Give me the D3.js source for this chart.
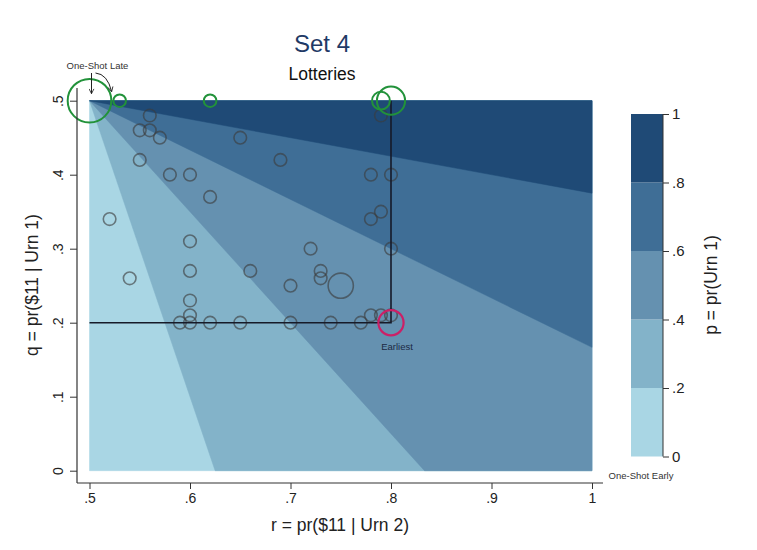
<!DOCTYPE html>
<html><head><meta charset="utf-8">
<script src="https://cdn.jsdelivr.net/npm/d3@7"></script>
<style>body{margin:0;background:#fff}svg{display:block;font-family:"Liberation Sans",Arial,sans-serif}</style>
</head><body><svg id="c" width="757" height="550"></svg>
<script>
// ---- data ----
const xTicks = [0.5, 0.6, 0.7, 0.8, 0.9, 1];
const xTickLabels = [".5", ".6", ".7", ".8", ".9", "1"];
const yTicks = [0, 0.1, 0.2, 0.3, 0.4, 0.5];
const yTickLabels = ["0", ".1", ".2", ".3", ".4", ".5"];
const levels = [0, 0.2, 0.4, 0.6, 0.8, 1];
const levelLabels = ["0", ".2", ".4", ".6", ".8", "1"];
// subjects (gray circles)
const subjR = [0.55,0.56,0.57,0.56,0.55,0.58,0.60,0.62,0.65,0.69,0.52,0.60,0.54,0.60,0.66,0.60,0.60,0.59,0.60,0.62,0.65,0.70,0.74,0.77,0.78,0.79,0.80,0.78,0.80,0.79,0.78,0.80,0.72,0.73,0.73,0.75,0.70,0.79];
const subjQ = [0.46,0.46,0.45,0.48,0.42,0.40,0.40,0.37,0.45,0.42,0.34,0.31,0.26,0.27,0.27,0.23,0.21,0.20,0.20,0.20,0.20,0.20,0.20,0.20,0.21,0.21,0.21,0.40,0.40,0.35,0.34,0.30,0.30,0.27,0.26,0.25,0.25,0.48];
const subjN = [1,1,1,1,1,1,1,1,1,1,1,1,1,1,1,1,1,1,1,1,1,1,1,1,1,1,1,1,1,1,1,1,1,1,1,4,1,1];
// one-shot (green circles)
const shotR = [0.50,0.53,0.62,0.79,0.80];
const shotQ = [0.50,0.50,0.50,0.50,0.50];
const shotN = [12,1,1,2,5];
// earliest (magenta circle)
const earlyR = [0.80];
const earlyQ = [0.20];
const earlyN = [4];
// reference point
const refR = 0.8, refQ = 0.2;

// ---- layout ----
const svg = d3.select("#c");
const x = d3.scaleLinear().domain([0.5, 1]).range([89.5, 592]);
const y = d3.scaleLinear().domain([0, 0.5]).range([470.7, 100.7]);
const colors = ["#a9d6e4", "#83b3c9", "#6591b0", "#3f6e96", "#1f4a76"];
const rad = d3.scaleSqrt().domain([0, 1]).range([0, 6.3]);

// contour bands p = (r-0.5)/(r-q): region p >= t
function bandPoly(t) {
  const pts = [[0.5, 0.5]];
  if (t <= 0.5) {
    pts.push([0.5 / (1 - t), 0]);
    pts.push([1, 0]);
  } else {
    pts.push([1, 1 - 0.5 / t]);
  }
  pts.push([1, 0.5]);
  return pts;
}
const gB = svg.append("g");
levels.slice(0, -1).forEach((t, i) => {
  gB.append("path")
    .attr("d", d3.line().x(d => x(d[0])).y(d => y(d[1]))(bandPoly(t)) + "Z")
    .attr("fill", colors[i]).attr("stroke", colors[i]).attr("stroke-width", 0.5);
});

// gray subject circles
const subj = subjR.map((r, i) => ({r, q: subjQ[i], n: subjN[i]}));
svg.append("g").selectAll("circle").data(subj).join("circle")
  .attr("cx", d => x(d.r)).attr("cy", d => y(d.q)).attr("r", d => rad(d.n))
  .attr("fill", "none").attr("stroke", "#3c3c3c").attr("stroke-opacity", 0.62).attr("stroke-width", 1.6);

// reference lines
svg.append("path")
  .attr("d", `M${x(0.5)},${y(refQ)}H${x(refR)}V${y(0.5)}`)
  .attr("fill", "none").attr("stroke", "#161a28").attr("stroke-width", 1.6);

// green circles
const shot = shotR.map((r, i) => ({r, q: shotQ[i], n: shotN[i]}));
svg.append("g").selectAll("circle").data(shot).join("circle")
  .attr("cx", d => x(d.r)).attr("cy", d => y(d.q)).attr("r", d => rad(d.n))
  .attr("fill", "none").attr("stroke", "#22923a").attr("stroke-width", 2);

// magenta circle
const early = earlyR.map((r, i) => ({r, q: earlyQ[i], n: earlyN[i]}));
svg.append("g").selectAll("circle").data(early).join("circle")
  .attr("cx", d => x(d.r)).attr("cy", d => y(d.q)).attr("r", d => rad(d.n))
  .attr("fill", "none").attr("stroke", "#cc1f66").attr("stroke-width", 2.2);

// annotations
svg.append("text").attr("x", x(refR) + 6).attr("y", y(refQ) + 27)
  .attr("text-anchor", "middle").attr("font-size", 9.5).attr("fill", "#1c2a44").text("Earliest");
svg.append("text").attr("x", x(0.5) + 8).attr("y", 69)
  .attr("text-anchor", "middle").attr("font-size", 9.5).attr("fill", "#333").text("One-Shot Late");
svg.append("text").attr("x", 641).attr("y", 479)
  .attr("text-anchor", "middle").attr("font-size", 9.5).attr("fill", "#333").text("One-Shot Early");
const defs = svg.append("defs");
defs.append("marker").attr("id", "ah").attr("viewBox", "0 0 10 10").attr("refX", 9).attr("refY", 5)
  .attr("markerWidth", 6).attr("markerHeight", 6).attr("orient", "auto")
  .append("path").attr("d", "M1,1L9,5L1,9").attr("fill", "none").attr("stroke", "#222").attr("stroke-width", 1.4);
svg.append("path").attr("d", `M${x(0.5) + 2},73V${y(0.5) - 7}`)
  .attr("stroke", "#222").attr("stroke-width", 1).attr("fill", "none").attr("marker-end", "url(#ah)");
svg.append("path").attr("d", `M${x(0.5) + 6},73Q${x(0.5) + 18},74 ${x(0.53) - 8},${y(0.5) - 9}`)
  .attr("stroke", "#222").attr("stroke-width", 1).attr("fill", "none").attr("marker-end", "url(#ah)");

// axes
const axColor = "#333";
svg.append("line").attr("x1", 77).attr("x2", 603).attr("y1", 483).attr("y2", 483).attr("stroke", axColor).attr("stroke-width", 1.2);
svg.append("line").attr("x1", 77).attr("x2", 77).attr("y1", 88).attr("y2", 483).attr("stroke", axColor).attr("stroke-width", 1.2);
const xa = svg.append("g").attr("transform", "translate(0,483)")
  .call(d3.axisBottom(x).tickValues(xTicks).tickFormat((d, i) => xTickLabels[i]).tickSize(6).tickPadding(4));
xa.select(".domain").remove();
xa.selectAll("text").attr("font-size", 14).attr("fill", "#222").attr("font-family", "Liberation Sans, Arial, sans-serif");
xa.selectAll("line").attr("stroke", axColor);

const ya = svg.append("g").attr("transform", "translate(77,0)")
  .call(d3.axisLeft(y).tickValues(yTicks).tickFormat((d, i) => yTickLabels[i]).tickSize(7));
ya.select(".domain").remove();
ya.selectAll("line").attr("stroke", axColor);
ya.selectAll("text").attr("font-size", 14).attr("fill", "#222").attr("font-family", "Liberation Sans, Arial, sans-serif")
  .attr("x", null).attr("dy", null).attr("text-anchor", "middle")
  .attr("transform", "translate(-14,0) rotate(-90)");

// titles
svg.append("text").attr("x", 322).attr("y", 52).attr("text-anchor", "middle").attr("font-size", 24).attr("fill", "#1f3a66").text("Set 4");
svg.append("text").attr("x", 322).attr("y", 80).attr("text-anchor", "middle").attr("font-size", 17.5).attr("fill", "#111").text("Lotteries");
svg.append("text").attr("x", 340).attr("y", 531).attr("text-anchor", "middle").attr("font-size", 17.5).attr("fill", "#222").text("r = pr($11 | Urn 2)");
svg.append("text").attr("transform", "translate(38,285) rotate(-90)").attr("text-anchor", "middle").attr("font-size", 17.5).attr("fill", "#222").text("q = pr($11 | Urn 1)");

// colorbar
const cb = d3.scaleLinear().domain([0, 1]).range([456.5, 114]);
const cbg = svg.append("g");
levels.slice(0, -1).forEach((t, i) => {
  cbg.append("rect").attr("x", 631).attr("width", 32)
    .attr("y", cb(levels[i + 1])).attr("height", cb(t) - cb(levels[i + 1]))
    .attr("fill", colors[i]);
});
const ca = svg.append("g").attr("transform", "translate(663,0)")
  .call(d3.axisRight(cb).tickValues(levels).tickFormat((d, i) => levelLabels[i]).tickSize(6).tickPadding(3));
ca.select(".domain").attr("stroke", axColor).attr("d", `M0,${cb(0)}V${cb(1)}`);
ca.selectAll("line").attr("stroke", axColor);
ca.selectAll("text").attr("font-size", 15).attr("fill", "#222").attr("font-family", "Liberation Sans, Arial, sans-serif");
svg.append("text").attr("transform", "translate(717,285) rotate(-90)").attr("text-anchor", "middle").attr("font-size", 17.5).attr("fill", "#222").text("p = pr(Urn 1)");
</script></body></html>
